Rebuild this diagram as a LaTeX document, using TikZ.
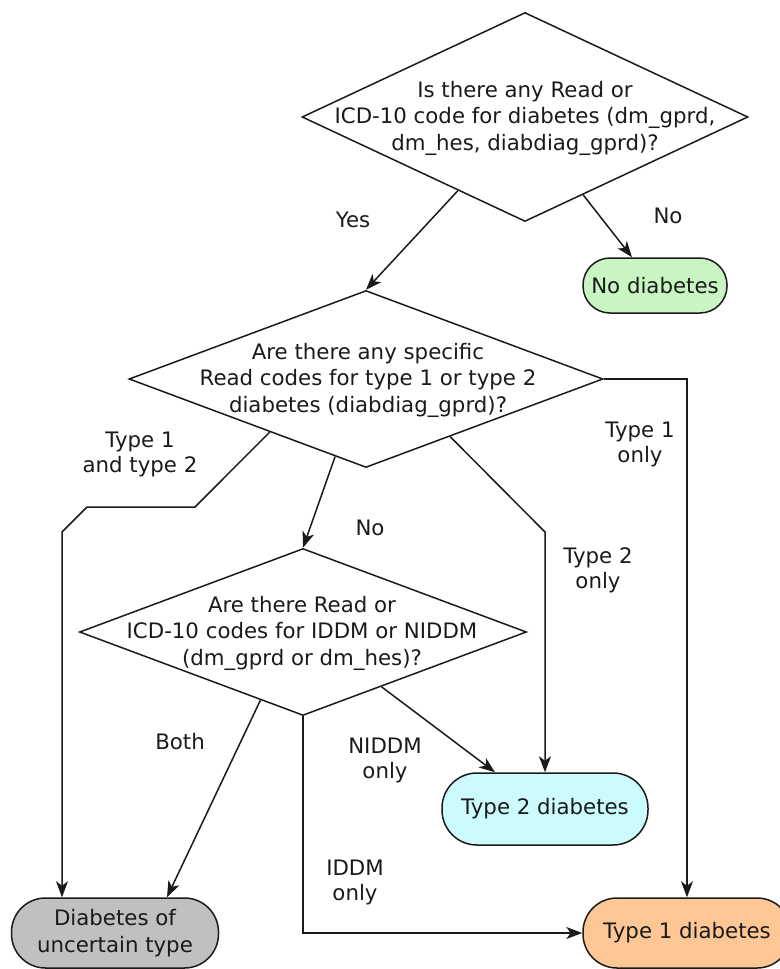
\documentclass[tikz,border=0pt]{standalone}
\usepackage{fontspec}
\setmainfont{DejaVu Sans}
\usetikzlibrary{shapes.geometric,arrows.meta,calc}
\definecolor{linec}{HTML}{1A1A1A}
\definecolor{greenf}{HTML}{C9F5C3}
\definecolor{cyanf}{HTML}{CCFBFD}
\definecolor{grayf}{HTML}{C0C0C0}
\definecolor{orangef}{HTML}{FCC794}
\begin{document}
\begin{tikzpicture}[x=1pt,y=-1pt,
  dia/.style={draw=linec, line width=1.5pt, shape=diamond, inner sep=0pt},
  qtext/.style={align=center, font=\fontsize{21.3}{26.5}\selectfont, inner sep=0pt, text=linec},
  term/.style={draw=linec, line width=1.5pt, rectangle, rounded corners=#1, inner sep=0pt,
               align=center, font=\fontsize{21.3}{26.5}\selectfont, text=linec},
  lbl/.style={align=center, font=\fontsize{21.3}{25}\selectfont, inner sep=0pt, text=linec},
  conn/.style={draw=linec, line width=1.5pt, -{Stealth[length=16pt,width=12pt,inset=4.5pt]}},
]
\useasboundingbox (0,0) rectangle (779,969);

% decision diamonds
\node[dia, minimum width=446pt, minimum height=209pt] (q1) at (525,117) {};
\node[qtext] (q1t) at (525,118) {Is there any Read or\\ICD-10 code for diabetes (dm\_gprd,\\dm\_hes, diabdiag\_gprd)?};

\node[dia, minimum width=474pt, minimum height=177pt] (q2) at (366,379) {};
\node[qtext] (q2t) at (368,380) {Are there any specific\\Read codes for type 1 or type 2\\diabetes (diabdiag\_gprd)?};

\node[dia, minimum width=447pt, minimum height=167pt] (q3) at (303,632) {};
\node[qtext] (q3t) at (302,633) {Are there Read or\\ICD-10 codes for IDDM or NIDDM\\(dm\_gprd or dm\_hes)?};

% terminal nodes
\node[term=27pt, fill=greenf, minimum width=144pt, minimum height=55pt] (nod) at (655,285.5) {No diabetes};
\node[term=35pt, fill=cyanf, minimum width=206pt, minimum height=72pt] (t2) at (545,809) {Type 2 diabetes};
\node[term=34pt, fill=grayf, minimum width=207pt, minimum height=70pt] (unc) at (115,933) {Diabetes of\\uncertain type};
\node[term=34pt, fill=orangef, minimum width=208pt, minimum height=70pt] (t1) at (687,933) {Type 1 diabetes};

% bend coordinates
\coordinate (b1) at (195,507);
\coordinate (b2) at (87,507);
\coordinate (b3) at (62,532);
\coordinate (b4) at (545,532);

% connectors
\draw[conn] ($(q1.south)!0.3!(q1.west)$) -- (q2.north);
\draw[conn] ($(q1.south)!0.26!(q1.east)$) -- ($(nod.north)+(-23,0)$);
\draw[conn] ($(q2.south)!0.405!(q2.west)$) -- (b1) -- (b2) -- (b3) -- ($(unc.north)+(-53,0)$);
\draw[conn] ($(q2.south)!0.13!(q2.west)$) -- (q3.north);
\draw[conn] ($(q2.south)!0.354!(q2.east)$) -- (b4) -- (t2.north);
\draw[conn] (q2.east) -- (t1.north |- q2.east) -- (t1.north);
\draw[conn] ($(q3.south)!0.19!(q3.west)$) -- ($(unc.north)+(52,0)$);
\draw[conn] ($(q3.south)!0.35!(q3.east)$) -- ($(t2.north)+(-50,0)$);
\draw[conn] (q3.south) -- (q3.south |- t1.west) -- (t1.west);

% labels
\node[lbl] (lyes) at (353,220) {Yes};
\node[lbl] (lno1) at (668,216) {No};
\node[lbl] (l12) at (140,454) {Type 1\\and type 2};
\node[lbl] (lno2) at (370,528) {No};
\node[lbl] (l1o) at (640,444) {Type 1\\only};
\node[lbl] (l2o) at (598,570) {Type 2\\only};
\node[lbl] (lboth) at (180,742) {Both};
\node[lbl] (lnid) at (385,760) {NIDDM\\only};
\node[lbl] (lid) at (355,882) {IDDM\\only};
\end{tikzpicture}
\end{document}
